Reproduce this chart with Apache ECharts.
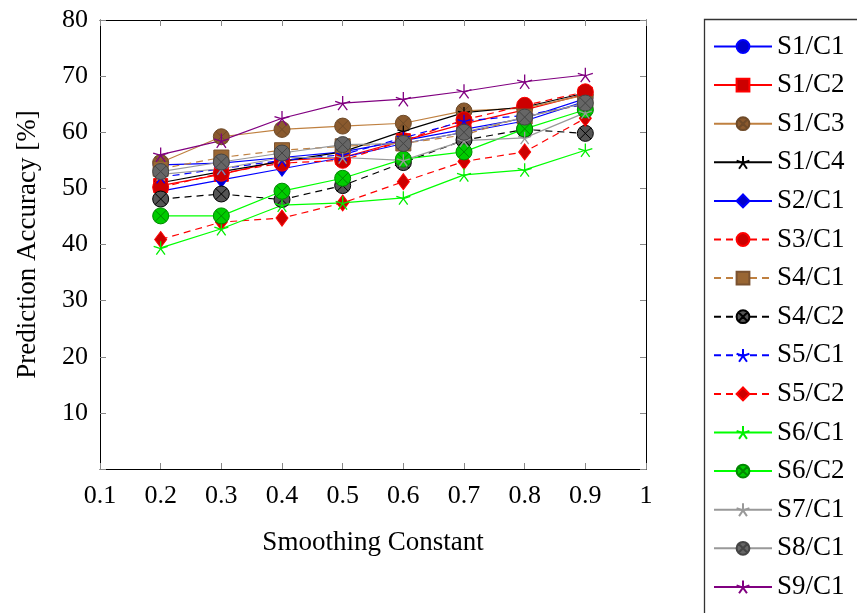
<!DOCTYPE html>
<html><head><meta charset="utf-8">
<script src="https://cdn.jsdelivr.net/npm/echarts@6/dist/echarts.min.js"></script>
<style>html,body{margin:0;padding:0;background:#fff}#c{width:857px;height:613px}</style>
</head><body><div id="c"></div>
<script>
const xs = [0.2, 0.3, 0.4, 0.5, 0.6, 0.7, 0.8, 0.9];
const xTicks = [0.1, 0.2, 0.3, 0.4, 0.5, 0.6, 0.7, 0.8, 0.9, 1];
const yTicks = [10, 20, 30, 40, 50, 60, 70, 80];
const names = ['S1/C1','S1/C2','S1/C3','S1/C4','S2/C1','S3/C1','S4/C1','S4/C2','S5/C1','S5/C2','S6/C1','S6/C2','S7/C1','S8/C1','S9/C1'];
const s1c1 = [54.2, 54.5, 55.5, 56.5, 58.5, 60.5, 62.5, 66.0];
const s1c2 = [50.5, 52.5, 55.0, 55.5, 58.5, 61.5, 64.0, 66.8];
const s1c3 = [54.6, 59.2, 60.5, 61.1, 61.6, 63.8, 64.3, 66.6];
const s1c4 = [51.0, 53.0, 54.8, 56.5, 60.2, 63.5, 64.5, 67.0];
const s2c1 = [49.5, 51.5, 53.5, 55.5, 58.0, 60.0, 62.0, 65.5];
const s3c1 = [50.2, 52.7, 54.5, 55.0, 58.5, 62.2, 64.8, 67.2];
const s4c1 = [53.5, 55.5, 56.8, 57.5, 58.0, 59.5, 62.8, 65.0];
const s4c2 = [48.1, 49.0, 48.0, 50.5, 54.6, 58.6, 60.5, 59.8];
const s5c1 = [52.0, 53.5, 55.0, 56.0, 59.0, 62.0, 63.0, 65.0];
const s5c2 = [40.9, 44.0, 44.7, 47.4, 51.2, 54.8, 56.5, 62.5];
const s6c1 = [39.4, 42.8, 47.0, 47.4, 48.3, 52.4, 53.3, 56.8];
const s6c2 = [45.1, 45.1, 49.5, 51.8, 55.2, 56.5, 60.6, 64.0];
const s7c1 = [52.5, 53.5, 55.5, 55.5, 55.0, 58.5, 59.0, 63.5];
const s8c1 = [53.0, 54.7, 56.3, 57.8, 58.0, 60.0, 62.7, 65.2];
const s9c1 = [56.0, 58.5, 62.5, 65.2, 65.9, 67.3, 69.0, 70.2];
const values = [s1c1,s1c2,s1c3,s1c4,s2c1,s3c1,s4c1,s4c2,s5c1,s5c2,s6c1,s6c2,s7c1,s8c1,s9c1];

const STAR = 'path://M0,0 L0,-10 M0,0 L9.51,-3.09 M0,0 L5.88,8.09 M0,0 L-5.88,8.09 M0,0 L-9.51,-3.09';
const OTIMES = 'path://M10,0 A10,10 0 1,1 -10,0 A10,10 0 1,1 10,0 Z M-7.07,-7.07 L7.07,7.07 M-7.07,7.07 L7.07,-7.07';
// [line colour, mark fill, mark stroke, symbol, size, dashed]
const styles = [
  ['#0000ff','#0000cc','#0000ff','circle',15,false],
  ['#ff0000','#cc0000','#ff0000','rect',14,false],
  ['#bf8040','#8a5a2e','#6e4a28',OTIMES,16,false],
  ['#000000','#000000','#000000',STAR,12,false],
  ['#0000ff','#0000cc','#0000ff','diamond',[11,15],false],
  ['#ff0000','#cc0000','#ff0000','circle',16,true],
  ['#bf8040','#996633','#7a5230','rect',15,true],
  ['#000000','#555555','#000000',OTIMES,16,true],
  ['#0000ff','#0000cc','#0000ff',STAR,13,true],
  ['#ff0000','#cc0000','#ff0000','diamond',[12,16],true],
  ['#00ff00','#00cc00','#00ee00',STAR,14,false],
  ['#00ff00','#00cc00','#008800',OTIMES,16,false],
  ['#999999','#808080','#999999',STAR,13,false],
  ['#999999','#666666','#444444',OTIMES,16,false],
  ['#800080','#660066','#800080',STAR,15,false]
];
const FONT = 'Liberation Serif';
const series = names.map((n, i) => {
  const st = styles[i];
  const isStar = st[3] === STAR;
  return {
    name: n, type: 'line', xAxisIndex: 0, yAxisIndex: 0,
    data: xs.map((x, k) => [x, values[i][k]]),
    symbol: st[3], symbolSize: st[4], symbolKeepAspect: true,
    lineStyle: {color: st[0], width: 1.2, type: st[5] ? [7, 5] : 'solid'},
    itemStyle: {color: isStar ? st[2] : st[1], borderColor: st[2], borderWidth: isStar ? 1.3 : 1},
    emphasis: {disabled: true}, animation: false
  };
});
const tickStyle = {show: true, inside: true, length: 6, lineStyle: {color: '#888'}};
const chart = echarts.init(document.getElementById('c'));
chart.setOption({
  backgroundColor: '#fff',
  animation: false,
  grid: {left: 100, right: 211, top: 20, bottom: 144, containLabel: false},
  xAxis: [{
    type: 'value', min: 0.1, max: 1, interval: 0.1, position: 'bottom',
    axisLine: {show: true, onZero: false, lineStyle: {color: '#000', width: 1}},
    axisTick: tickStyle, splitLine: {show: false},
    axisLabel: {fontFamily: FONT, fontSize: 26, color: '#000', margin: 14,
      formatter: v => { const t = xTicks.find(a => Math.abs(a - v) < 1e-6); return t === undefined ? '' : (t === 1 ? '1' : t.toFixed(1)); }},
    name: 'Smoothing Constant', nameLocation: 'middle', nameGap: 60,
    nameTextStyle: {fontFamily: FONT, fontSize: 27, color: '#000'}
  }, {
    type: 'value', min: 0.1, max: 1, interval: 0.1, position: 'top',
    axisLine: {show: true, onZero: false, lineStyle: {color: '#000', width: 1}},
    axisTick: tickStyle, axisLabel: {show: false}, splitLine: {show: false}
  }],
  yAxis: [{
    type: 'value', min: 0, max: 80, interval: 10, position: 'left',
    axisLine: {show: true, onZero: false, lineStyle: {color: '#000', width: 1}},
    axisTick: tickStyle, splitLine: {show: false},
    axisLabel: {fontFamily: FONT, fontSize: 26, color: '#000', margin: 12,
      formatter: v => yTicks.indexOf(Math.round(v)) >= 0 ? String(Math.round(v)) : ''},
    name: 'Prediction Accuracy [%]', nameLocation: 'middle', nameGap: 59, nameRotate: 90,
    nameTextStyle: {fontFamily: FONT, fontSize: 27, color: '#000'}
  }, {
    type: 'value', min: 0, max: 80, interval: 10, position: 'right',
    axisLine: {show: true, onZero: false, lineStyle: {color: '#000', width: 1}},
    axisTick: tickStyle, axisLabel: {show: false}, splitLine: {show: false}
  }],
  legend: {
    orient: 'vertical', left: 708, top: 28, padding: 5,
    itemWidth: 58, itemHeight: 16, itemGap: 11.6,
    textStyle: {fontFamily: FONT, fontSize: 27, color: '#000', lineHeight: 27},
    data: names, selectedMode: false
  },
  graphic: [{type: 'rect', left: 702, top: 17, silent: true,
    shape: {width: 300, height: 700}, style: {fill: 'none', stroke: '#333', lineWidth: 1.3}}],
  series: series
});
</script></body></html>
